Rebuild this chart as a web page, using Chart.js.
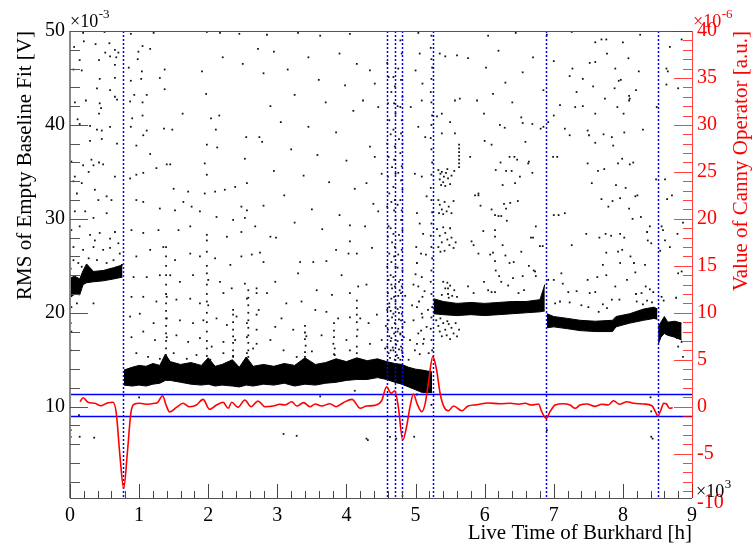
<!DOCTYPE html>
<html lang="en">
  <head>
    <meta charset="UTF-8" />
    <title>RMS of Empty Baseline Fit vs Live Time</title>
    <script src="https://cdn.jsdelivr.net/npm/chart.js"></script>
    <style>
      html, body { margin: 0; padding: 0; background: #fff; }
      #wrap { width: 753px; height: 546px; }
    </style>
  </head>
  <body>
    <div id="wrap"><canvas id="rmsChart" width="753" height="546"></canvas></div>

    <script>
      // x in units of 1e3 s, left axis in 1e-3 V, right axis in 1e-6 a.u.

      // dense baseline band (upper / lower edge), null = jump
      const bandX = [0.0, 0.07, 0.14, 0.19, 0.24, 0.34, 0.48, 0.63, 0.76, null,
        0.78, 0.9, 1.0, 1.1, 1.2, 1.3, 1.38, 1.45, 1.6, 1.75, 1.9, 2.0, 2.1, 2.2, 2.35, 2.45, 2.55, 2.65,
        2.8, 2.95, 3.1, 3.25, 3.4, 3.55, 3.7, 3.85, 4.0, 4.15, 4.3, 4.45, 4.58, 4.7, 4.8, 4.9, 5.0, 5.1, 5.24, null,
        5.26, 5.4, 5.6, 5.8, 6.0, 6.2, 6.4, 6.6, 6.8, 6.87, null,
        6.9, 7.0, 7.2, 7.38, 7.6, 7.85, 7.9, 8.1, 8.3, 8.45, 8.5, null,
        8.51, 8.55, 8.6, 8.65, 8.75, 8.85];
      const bandHi = [23.7, 23.9, 23.6, 24.5, 25.2, 24.4, 24.5, 24.8, 25.1, null,
        13.9, 14.2, 14.4, 14.3, 14.6, 14.4, 15.6, 14.8, 14.5, 14.7, 14.4, 15.2, 14.3, 14.5, 15.0, 14.2, 15.3, 14.3,
        14.5, 14.3, 14.6, 14.4, 15.2, 14.5, 14.7, 15.1, 14.8, 15.2, 14.9, 15.1, 14.8, 14.6, 14.5, 14.2, 14.0, 13.9, 13.7, null,
        21.5, 21.2, 21.0, 21.1, 21.0, 21.1, 21.2, 21.2, 21.4, 23.0, null,
        19.9, 19.6, 19.4, 19.2, 19.1, 19.2, 19.6, 19.9, 20.4, 20.6, 20.4, null,
        18.5, 19.0, 19.6, 19.0, 19.1, 18.9];
      const bandLo = [21.6, 22.0, 21.9, 23.0, 23.2, 23.3, 23.4, 23.6, 23.8, null,
        12.3, 12.2, 12.3, 12.2, 12.4, 12.5, 12.8, 12.8, 12.6, 12.4, 12.3, 12.4, 12.2, 12.3, 12.2, 12.1, 12.3, 12.2,
        12.4, 12.3, 12.5, 12.2, 12.4, 12.3, 12.5, 12.6, 12.8, 12.9, 12.9, 13.1, 12.9, 12.6, 12.4, 12.1, 11.8, 11.5, 11.5, null,
        19.9, 19.8, 19.7, 19.8, 19.7, 19.8, 19.9, 20.0, 20.1, 20.2, null,
        18.4, 18.5, 18.3, 18.1, 18.0, 18.0, 18.5, 18.9, 19.2, 19.4, 19.3, null,
        16.6, 17.4, 17.8, 17.6, 17.4, 17.1];

      // scattered single measurements [time, rms]
      const dotsLeft = [
        [0.19,49.8],[0.5,49.9],[0.88,49.7],[1.21,49.8],[1.98,49.9],[2.17,49.8],[2.45,49.7],[0.06,48.3],[0.2,48.9],[0.37,48.6],
        [0.57,48.7],[0.51,47.7],[0.65,48.0],[0.7,47.7],[0.99,47.8],[1.05,48.4],[1.16,48.1],[2.72,48.1],[0.14,46.9],[0.42,46.9],
        [0.58,47.3],[0.67,47.2],[0.98,47.0],[2.21,47.2],[2.5,46.5],[0.05,45.9],[0.17,45.8],[0.65,46.4],[0.85,46.1],[1.04,45.7],
        [1.37,45.9],[1.91,45.7],[0.43,44.9],[0.65,45.0],[0.88,44.7],[1.03,44.9],[1.3,45.0],[1.37,43.8],[1.97,43.3],[0.39,43.9],
        [0.58,43.7],[0.65,43.0],[0.93,43.2],[1.11,43.2],[0.07,42.4],[0.23,42.6],[0.43,42.3],[0.68,42.7],[0.87,42.5],[1.05,42.4],
        [0.45,41.8],[0.42,41.2],[1.63,41.2],[0.11,40.6],[1.05,41.0],[0.9,40.7],[2.04,40.7],[2.16,41.0],[0.14,40.1],[0.29,39.9],
        [0.39,39.5],[0.46,39.4],[0.58,39.8],[0.88,39.8],[1.11,39.4],[1.36,39.6],[1.48,39.5],[2.11,39.5],[2.55,38.7],[2.74,38.7],
        [0.29,38.3],[0.46,38.5],[0.68,38.0],[0.96,37.8],[1.06,38.9],[1.98,37.9],[2.13,37.6],
        [0.02,36.1],[0.07,34.5],[0.05,34.0],[0.1,32.7],[0.19,35.7],[0.34,35.7],[0.42,36.0],[0.48,35.8],[0.31,36.3],[0.27,35.0],
        [0.17,33.8],[0.36,33.1],[0.41,32.0],[0.53,32.4],[0.65,34.5],[0.6,32.0],[0.07,30.8],[0.22,30.8],[0.34,30.1],[0.53,30.6],
        [0.02,28.8],[0.14,29.2],[0.29,28.3],[0.36,27.7],[0.43,28.5],[0.58,27.9],[0.65,28.6],[0.7,27.4],[0.05,27.0],[0.19,26.7],
        [0.34,27.0],[0.48,26.7],[0.58,26.9],[0.72,26.3],[0.05,25.6],[0.12,25.3],[0.27,25.8],[0.39,25.6],[0.53,25.3],[0.63,25.6],
        [0.75,25.1],[0.01,24.7],[0.17,24.9],[0.02,20.6],[0.1,21.0],[0.34,21.0],[0.01,18.9],[0.02,18.0],[0.01,16.0],
        [1.16,36.9],[1.4,35.8],[1.45,35.8],[1.95,35.9],[1.98,34.7],[1.95,32.7],[2.1,32.9],[2.24,33.1],[2.39,33.4],[2.53,36.4],
        [2.56,33.8],[0.87,34.3],[0.96,34.7],[1.06,34.9],[1.25,35.4],[1.5,33.2],[1.71,32.9],[0.96,32.0],[1.06,31.8],[1.3,31.1],
        [1.52,30.9],[1.64,31.8],[1.76,31.3],[1.88,30.8],[2.12,30.2],[2.48,31.3],[2.56,30.9],[2.36,29.9],[2.53,30.1],[0.89,28.8],
        [1.06,28.5],[1.28,28.8],[1.57,28.8],[1.74,29.2],[1.98,28.3],[1.98,27.7],[2.27,28.1],[2.48,28.6],[2.68,29.2],[0.96,26.0],
        [1.16,26.7],[1.35,27.0],[1.52,25.6],[1.74,26.3],[1.88,26.0],[2.1,25.8],[2.32,25.1],[2.48,26.0],[2.63,26.2],[0.92,23.8],
        [1.11,23.8],[1.3,24.0],[1.45,24.0],[1.59,23.3],[1.78,24.0],[2.0,23.5],[2.17,23.3],[2.34,22.6],[2.53,23.1],[2.7,22.1],
        [0.89,21.7],[1.06,21.7],[1.25,21.2],[1.4,21.7],[1.54,21.4],[1.74,21.5],[1.88,21.0],[2.0,20.8],[2.22,22.1],[2.36,20.3],
        [2.56,21.5],[0.87,19.6],[1.01,19.9],[1.21,18.9],[1.4,19.4],[1.59,19.2],[1.78,18.9],[1.93,19.2],[2.12,19.4],[2.27,18.7],
        [2.41,19.6],[2.56,18.9],[2.7,19.8],[0.89,17.4],[1.06,18.0],[1.23,17.1],[1.4,17.4],[1.54,17.6],[1.71,16.9],[1.88,17.3],
        [2.05,16.4],[2.22,16.9],[2.39,17.1],[2.56,17.4],[2.7,16.7],[0.96,15.7],[1.13,15.3],[1.3,15.1],[1.5,15.7],[1.69,15.1],
        [1.83,15.5],[2.03,15.0],[2.22,15.7],[2.36,15.3],[2.56,15.7],
        [1.39,27.0],[1.39,26.0],[1.39,25.0],[1.39,24.0],[1.39,23.0],[1.39,22.0],[1.39,21.0],[1.39,20.2],[1.39,19.4],[1.39,18.6],
        [1.39,17.8],[1.39,17.0],[1.39,16.2],[1.39,15.5],
        [1.98,26.5],[1.98,25.0],[1.98,24.2],[1.98,23.0],[1.98,22.0],[1.98,21.2],[1.98,20.0],[1.98,19.0],[1.98,18.0],[1.98,17.0],
        [1.98,16.2],[1.98,15.4],
        [2.36,19.8],[2.36,19.0],[2.36,18.2],[2.36,17.5],[2.36,16.8],[2.36,16.0],[2.36,15.4],
        [2.58,22.4],[2.58,21.6],[2.58,20.8],[2.58,20.0],[2.58,19.2],[2.58,18.4],[2.58,17.6],[2.58,16.8],[2.58,16.0],[2.58,15.3]
      ];
      const dotsMid = [
        [2.85,49.6],[3.3,49.8],[3.62,49.5],[4.05,49.7],[2.95,47.8],[3.45,47.2],[3.9,47.6],[4.15,46.5],[2.8,45.5],[3.15,45.9],
        [3.6,44.8],[3.98,44.2],[3.25,43.2],[2.9,42.0],[3.7,42.4],[4.1,41.5],[3.05,40.3],[3.45,39.8],[3.85,39.2],[2.78,38.2],
        [3.2,37.4],[3.58,36.8],[4.0,36.2],[2.95,35.1],[3.38,34.6],[3.75,33.9],[4.12,33.2],[3.1,32.5],[2.8,31.4],[3.5,31.0],
        [3.9,30.4],[3.25,29.6],[4.05,29.3],[3.65,28.9],
        [2.9,28.1],[2.98,28.0],[2.75,26.4],[2.8,25.4],[3.33,25.4],[3.52,25.4],[3.71,25.5],[4.03,26.3],[4.15,26.3],[4.37,26.9],
        [3.85,26.7],[4.05,27.6],[3.93,24.0],[3.3,24.2],[2.97,23.3],[2.7,22.6],[2.85,22.1],[3.57,22.4],[3.79,21.9],[4.05,22.1],
        [4.17,22.8],[4.29,23.0],[3.13,21.0],[3.35,21.2],[2.73,20.3],[3.06,19.4],[3.55,20.3],[3.71,20.1],[3.88,19.4],[4.05,19.5],
        [4.2,19.4],[4.32,18.9],[4.44,19.8],[2.7,18.2],[2.97,18.5],[3.23,18.2],[3.42,17.5],[3.64,17.6],[3.81,16.7],[4.0,17.1],
        [4.15,16.4],[4.34,16.7],[4.51,17.1],[2.9,17.1],[2.65,16.2],[3.09,16.0],[3.28,15.3],[3.5,15.9],[3.83,15.5],[4.05,16.0],
        [3.4,18.6],[3.4,17.9],[3.4,17.2],[3.41,16.5],[3.4,15.8],[3.4,15.3],[3.82,18.9],[3.82,18.1],[3.82,17.4],[3.83,16.2],
        [3.82,15.6],[4.15,21.3],[4.15,20.5],[4.15,19.8],[4.15,19.0],[4.16,18.2],[4.15,17.5],[4.15,15.7]
      ];
      const dotsBurst = [
        [4.34,45.8],[4.41,44.4],[4.24,42.6],[4.46,41.9],[4.34,37.7],[4.41,36.6],[4.51,34.8],[4.29,33.8],[4.39,31.6],[4.46,30.8],[4.27,29.2],
        [4.59,46.6],[4.61,45.1],[4.6,42.3],[4.62,40.5],[4.59,38.0],[4.61,36.6],[4.6,34.5],[4.62,32.7],[4.59,31.3],[4.61,29.2],
        [4.6,28.1],[4.62,26.3],[4.59,24.9],[4.61,23.5],[4.6,22.1],[4.62,21.0],[4.59,20.3],[4.61,19.2],[4.6,18.2],[4.62,17.5],
        [4.59,16.4],[4.61,15.7],[4.6,14.6],
        [4.65,43.5],[4.64,39.0],[4.66,35.5],[4.65,31.8],[4.64,29.0],[4.66,27.5],[4.65,25.4],[4.64,24.0],[4.66,22.6],[4.65,21.5],
        [4.64,20.2],[4.66,18.4],[4.65,17.3],[4.64,16.0],
        [4.68,45.1],[4.7,44.1],[4.69,42.3],[4.71,41.2],[4.68,39.5],[4.7,37.7],[4.69,36.3],[4.71,34.8],[4.68,33.4],[4.7,32.0],
        [4.69,30.9],[4.71,29.9],[4.68,28.4],[4.7,27.0],[4.69,26.0],[4.71,24.9],[4.68,23.8],[4.7,22.8],[4.69,21.7],[4.71,20.6],
        [4.68,19.9],[4.7,18.9],[4.69,17.8],[4.71,17.1],[4.68,16.0],[4.7,15.0],
        [4.75,46.0],[4.74,42.0],[4.76,38.5],[4.75,34.9],[4.74,31.5],[4.76,28.3],[4.75,26.2],[4.74,24.8],[4.76,23.3],[4.75,21.8],
        [4.74,20.4],[4.76,19.3],[4.75,18.3],[4.74,17.0],[4.76,16.1],[4.75,15.2],
        [4.78,49.0],[4.8,47.6],[4.79,44.8],[4.81,43.0],[4.78,41.9],[4.8,40.5],[4.79,39.1],[4.81,38.0],[4.78,37.0],[4.8,35.6],
        [4.79,34.1],[4.81,33.1],[4.78,32.0],[4.8,30.9],[4.79,29.9],[4.81,28.8],[4.78,27.7],[4.8,26.7],[4.79,25.6],[4.81,24.5],
        [4.78,23.5],[4.8,22.8],[4.79,22.1],[4.81,21.4],[4.78,20.6],[4.8,19.9],[4.79,19.2],[4.81,18.5],[4.78,17.8],[4.8,17.1],
        [4.79,16.4],[4.81,15.7],[4.78,15.0],
        [4.56,16.2],[4.64,17.0],[4.66,19.5],[4.72,16.6],[4.74,18.0],[4.76,20.0],[4.83,17.4],[4.84,19.0],[4.57,18.6],[4.63,15.2],
        [4.71,21.2],[4.8,16.0],[4.78,17.7],[4.82,15.3],[4.67,16.3],[4.73,15.5],[4.62,20.6],[4.85,21.8],[4.77,22.4],[4.65,23.0],
        [5.04,49.8],[5.06,47.6],[5.0,45.8],[5.1,44.4],[5.09,42.6],[4.93,41.9],[5.04,39.8],[5.14,38.7],[4.99,34.8],[5.09,34.5],
        [5.16,32.4],[5.02,30.6],[5.06,29.5],[5.11,28.4],[5.01,27.0],[5.08,26.3],[5.02,25.3],[5.09,23.8],[5.04,22.8],[5.1,21.7],
        [5.02,20.6],[5.09,19.9],[4.97,19.2],[5.16,18.5],[5.04,17.8],[4.92,17.1],[5.11,16.7],[4.99,16.0],[5.19,15.7],[4.9,15.0],
        [5.0,24.1],[5.05,21.2],[5.08,18.1],[5.02,16.7],[5.06,15.6],[5.1,19.5],[4.95,20.8],[4.97,23.0],[5.13,22.3],[5.15,26.2],
        [5.18,20.3],[5.12,17.2],
        [5.23,49.5],[5.22,48.2],[5.23,47.0],[5.24,46.1],[5.23,44.9],[5.22,43.5],[5.23,42.4],[5.24,41.0],[5.23,40.0],[5.22,38.6],
        [5.23,37.4],[5.24,36.0],[5.23,34.7],[5.22,33.3],[5.23,32.0],[5.24,30.7],[5.23,29.5],[5.22,28.2],[5.23,27.0],[5.24,25.8],
        [5.23,24.5],[5.22,23.3],[5.23,22.0],[5.24,20.6],[5.23,19.5],[5.22,18.3],[5.23,17.1],[5.24,16.0],
        [5.35,47.6],[5.43,47.3],[5.6,47.4],[5.76,47.1],[5.89,42.6],[5.57,42.6],[5.64,42.8],[5.79,36.6],[5.91,32.7],
        [5.38,41.2],[5.31,40.9],[5.5,40.3],[5.57,39.1],[5.38,39.1],[5.86,32.5],[5.91,32.5],[5.81,27.6],[5.84,27.2],[5.91,26.3],
        [5.76,22.8],[5.84,22.1],
        [5.33,35.2],[5.36,34.8],[5.38,35.0],[5.41,34.5],[5.35,34.2],[5.4,33.9],[5.44,34.9],[5.47,34.3],[5.5,33.7],[5.43,33.5],
        [5.52,34.6],[5.56,35.1],[5.37,33.6],[5.46,35.3],
        [5.63,37.9],[5.63,37.5],[5.63,37.1],[5.63,36.7],[5.63,36.3],[5.63,35.9],[5.63,35.5],
        [5.33,32.0],[5.35,31.5],[5.38,31.0],[5.34,30.6],[5.42,31.8],[5.45,30.8],[5.4,30.5],[5.48,31.3],[5.52,30.6],[5.55,31.9],
        [5.31,28.9],[5.35,28.2],[5.38,27.5],[5.33,27.0],[5.4,29.1],[5.43,28.5],[5.46,27.8],[5.49,27.2],[5.42,26.6],[5.52,28.0],
        [5.55,26.9],[5.58,27.5],[5.36,26.5],[5.5,29.0],
        [5.4,23.3],[5.43,22.6],[5.46,23.2],[5.47,22.0],[5.47,22.6],[5.48,21.6],[5.5,22.9],[5.53,21.8],[5.56,22.4],[5.6,21.7],[5.38,21.9],
        [5.3,19.2],[5.33,18.6],[5.35,18.0],[5.38,17.5],[5.4,18.9],[5.43,18.2],[5.45,17.6],[5.48,18.8],[5.5,17.2],[5.52,18.4],
        [5.55,17.8],[5.58,18.9],[5.6,17.5],[5.63,18.2],[5.36,19.4],[5.46,19.1]
      ];
      const dotsRight = [
        [6.05,49.5],[6.45,49.8],[6.9,49.6],[6.2,47.9],[6.7,47.2],[6.02,46.1],[6.55,45.6],[7.0,46.8],[6.3,44.5],[6.85,43.7],[6.12,43.3],
        [7.26,49.9],[8.25,49.6],[7.6,48.8],[7.69,49.1],[7.76,49.1],[8.0,48.8],[8.85,49.1],[7.77,47.6],[8.08,47.1],[8.68,48.3],
        [7.52,46.6],[7.6,46.7],[7.27,46.0],[7.89,46.0],[8.23,45.7],[8.63,46.0],[8.65,45.7],[7.23,45.2],[7.42,44.9],[7.57,44.1],
        [7.94,44.7],[7.97,44.8],[8.8,43.9],[7.33,43.5],[7.88,43.9],[8.19,43.7],[8.63,44.3],[8.09,43.1],[8.1,42.8],[7.74,42.8],
        [6.4,42.4],[5.99,41.2],[6.53,40.8],[6.55,40.2],[6.22,40.0],[6.29,39.7],[6.69,40.1],[6.85,39.8],[6.81,39.6],[6.0,38.3],
        [6.1,37.9],[6.59,38.2],[6.36,36.6],[6.43,36.6],[6.47,36.3],[6.63,35.9],[6.64,36.1],[6.23,36.0],[6.16,35.2],[6.31,35.1],
        [6.39,35.1],[6.69,34.9],[6.51,34.5],[6.44,33.8],[6.26,33.6],[5.94,31.4],[6.1,31.0],[6.28,31.6],[6.31,31.1],[6.37,31.7],
        [6.48,31.9],[6.15,30.4],[6.2,30.3],[6.24,30.3],[6.32,29.8],[5.98,28.7],[6.15,28.8],[6.74,29.2],[6.15,28.1],[6.7,28.0],
        [6.67,28.0],[6.8,27.1],[6.84,27.1],[6.26,27.2],[6.08,26.2],[6.12,26.4],[6.3,26.1],[6.53,26.5],[6.15,25.5],[6.16,24.5],
        [6.36,25.3],[6.42,25.4],[6.21,23.9],[6.55,23.9],[6.64,25.0],[6.73,24.4],[5.99,23.3],[6.05,22.4],[6.1,22.2],[6.15,22.2],
        [6.24,23.3],[6.34,22.9],[6.41,23.7],[6.49,22.1],[6.57,22.4],[6.71,24.5],[6.74,23.9],
        [7.09,42.1],[7.31,41.9],[7.42,42.0],[7.6,41.2],[7.92,41.9],[8.01,41.2],[8.09,42.6],[7.0,41.0],[6.92,40.3],[7.16,39.6],
        [7.23,38.9],[7.49,39.4],[7.51,38.9],[7.72,39.0],[7.84,38.7],[8.02,39.2],[8.29,39.5],[7.6,38.1],[7.86,37.8],[8.49,41.9],
        [6.99,36.6],[7.05,36.6],[7.49,35.9],[7.93,35.9],[8.1,35.8],[8.15,36.0],[7.64,35.1],[7.73,35.3],[7.99,36.4],[8.48,34.2],
        [8.61,34.2],[7.55,33.8],[7.9,33.6],[8.04,33.3],[8.21,32.5],[8.18,32.4],[7.69,32.1],[7.79,31.3],[7.85,31.9],[7.96,32.2],
        [8.09,31.1],[8.14,30.0],[8.26,30.2],[8.71,32.5],[8.64,32.1],[7.0,30.4],[7.07,30.4],[7.16,30.6],[7.47,28.4],[7.66,28.0],
        [7.75,28.4],[7.83,28.2],[7.96,28.4],[8.02,28.0],[8.39,29.2],[8.35,28.6],[7.26,27.2],[7.76,26.4],[7.93,26.5],[7.99,26.7],
        [8.11,26.0],[7.96,25.3],[8.16,25.3],[8.32,25.1],[8.36,27.7],[8.41,27.4],[7.71,25.1],[8.58,28.8],[8.61,27.7],[8.68,27.0],
        [8.79,28.4],[8.87,29.6],[7.11,24.2],[7.0,23.5],[6.92,23.5],[7.13,23.1],[7.21,22.2],[7.33,22.3],[7.49,23.5],[7.63,23.8],
        [7.76,24.0],[7.89,22.8],[8.06,23.5],[8.18,24.3],[8.19,22.0],[7.52,22.1],[7.6,22.2],[8.27,22.1],[8.33,22.8],[8.39,22.5],
        [8.44,22.2],[8.54,26.6],[8.56,29.2],[8.8,24.2],[8.85,24.4],[8.77,21.6],[8.56,21.7],[8.59,21.3],[7.09,21.2],[7.23,21.1],
        [7.02,21.0],[7.4,20.8],[7.5,20.6],[7.71,20.9],[7.65,20.1],[7.77,20.5],[7.84,21.4],[7.95,21.4],[8.2,21.2],[8.29,20.9],
        [8.35,21.3],[8.42,21.1],
        [8.82,17.8],[8.85,16.9],[8.87,15.3],[8.8,16.4],[8.78,17.3]
      ];
      const dotsLow = [
        [0.01,7.5],[0.13,9.1],[0.14,6.8],[0.35,6.7],[1.0,11.0],[3.09,7.1],[3.28,6.9],[4.29,6.6],[4.31,6.45],[4.63,6.8],
        [4.72,6.6],[4.98,6.8],[3.62,11.1],[4.12,11.7],[5.02,11.3],[5.23,10.2],[0.01,6.8],[6.9,7.5],[8.4,11.0],[8.41,9.5],
        [8.41,6.8],[8.43,6.6]
      ];

      // Canny operator response (right axis)
      const cannyX = [0.145, 0.19, 0.26, 0.357, 0.45, 0.55, 0.62, 0.67, 0.72, 0.777, 0.83, 0.88, 0.926, 1.01, 1.105, 1.225,
        1.27, 1.34, 1.39, 1.44, 1.54, 1.635, 1.73, 1.83, 1.925, 2.02, 2.12, 2.215, 2.29, 2.34, 2.43, 2.53, 2.62, 2.72, 2.82,
        2.94, 3.035, 3.11, 3.21, 3.28, 3.38, 3.47, 3.55, 3.64, 3.76, 3.85, 3.955, 4.08, 4.2, 4.29, 4.41, 4.51, 4.58, 4.645,
        4.70, 4.75, 4.815, 4.87, 4.92, 4.97, 5.02, 5.09, 5.14, 5.185, 5.25, 5.305, 5.355, 5.41, 5.475, 5.55, 5.67, 5.76,
        5.885, 6.05, 6.22, 6.37, 6.49, 6.585, 6.68, 6.78, 6.825, 6.89, 6.945, 7.02, 7.14, 7.235, 7.31, 7.38, 7.48, 7.6,
        7.695, 7.79, 7.865, 7.95, 8.06, 8.155, 8.3, 8.42, 8.47, 8.505, 8.55, 8.59, 8.63, 8.675, 8.72];
      const cannyY = [0.53, 0.96, 0.47, 0.36, 0.1, 0.43, 0.47, -0.7, -5.0, -8.7, -4.9, -0.7, 0.26, 0.36, 0.26, 0.36,
        0.47, 1.17, 0.18, -0.56, -0.07, 0.36, 0.0, 0.18, 0.78, -0.28, 0.18, 0.47, -0.17, 0.47, -0.07, 0.71, 0.0, 0.61, 0.0,
        0.07, 0.26, 0.18, 0.53, 0.07, 0.43, 0.0, 0.29, 0.07, 0.32, 0.0, 0.43, 0.78, -0.17, 0.07, 0.14, 0.64, 2.13, 1.43,
        1.7, 0.0, -3.55, -2.13, 0.0, 1.35, 0.36, -0.53, 0.36, 2.49, 5.33, 3.9, 1.43, 0.0, -0.43, 0.07, -0.43, 0.07,
        0.21, 0.39, 0.32, 0.36, 0.26, 0.36, 0.18, 0.29, -0.53, -1.24, -0.53, 0.18, 0.32, 0.18, -0.17, 0.18, 0.29, 0.04,
        0.26, 0.18, 0.64, 0.26, 0.53, 0.36, 0.29, 0.1, -0.53, -0.96, -0.35, 0.36, 0.29, -0.17, -0.1];

      // detected edges and Canny thresholds
      const edgeTimes = [0.77, 4.58, 4.70, 4.81, 5.25, 6.89, 8.51];
      const thresholds = [1.38, -1.0];

      const leftTicks = [10, 20, 30, 40, 50];
      const rightTicks = [-5, 0, 5, 10, 15, 20, 25, 30, 35, 40];
      const xTicks = [0, 1, 2, 3, 4, 5, 6, 7, 8, 9];

      const SERIF = '"Liberation Serif", "Times New Roman", serif';
      const toPts = (arr) => arr.map((p) => ({ x: p[0], y: p[1] }));

      // split band arrays into continuous pieces
      function bandPieces() {
        const pieces = [];
        let cur = { hi: [], lo: [] };
        bandX.forEach((x, i) => {
          if (x === null) { pieces.push(cur); cur = { hi: [], lo: [] }; return; }
          cur.hi.push({ x: x, y: bandHi[i] });
          cur.lo.push({ x: x, y: bandLo[i] });
        });
        pieces.push(cur);
        return pieces;
      }

      const datasets = [];
      datasets.push({
        type: 'line',
        label: 'Canny',
        data: cannyX.map((x, i) => ({ x: x, y: cannyY[i] })),
        yAxisID: 'y2',
        borderColor: '#ff0000',
        borderWidth: 1.6,
        pointRadius: 0,
        fill: false,
        cubicInterpolationMode: 'monotone',
        order: 0,
      });
      [dotsLeft, dotsMid, dotsBurst, dotsRight, dotsLow].forEach((d) => {
        datasets.push({
          type: 'scatter',
          data: toPts(d),
          yAxisID: 'y',
          pointStyle: 'rect',
          pointRadius: 1.25,
          pointBorderWidth: 0,
          backgroundColor: '#111',
          borderColor: '#111',
          order: 1,
        });
      });
      bandPieces().forEach((p) => {
        datasets.push({
          type: 'line', data: p.hi, yAxisID: 'y', borderColor: '#000', borderWidth: 1,
          backgroundColor: '#000', pointRadius: 0, fill: '+1', tension: 0, order: 2,
        });
        datasets.push({
          type: 'line', data: p.lo, yAxisID: 'y', borderColor: '#000', borderWidth: 1,
          backgroundColor: '#000', pointRadius: 0, fill: false, tension: 0, order: 2,
        });
      });

      // ×10^n label: base text and a raised exponent
      function powerLabel(ctx, x, y, exp, color) {
        ctx.fillStyle = color;
        ctx.textAlign = 'left';
        ctx.font = '18px ' + SERIF;
        ctx.fillText('\u00d710', x, y);
        const w = ctx.measureText('\u00d710').width;
        ctx.font = '13px ' + SERIF;
        ctx.fillText(exp, x + w + 0.5, y - 9);
      }

      // ROOT-like frame, inward ticks, edge markers and extra text
      const rootFrame = {
        id: 'rootFrame',
        beforeDatasetDraw(chart, args) {
          if (args.index !== 0) return;
          const { ctx, chartArea: a, scales } = chart;
          ctx.save();
          ctx.strokeStyle = '#0000ff';
          ctx.lineWidth = 1.5;
          thresholds.forEach((t) => {
            const y = Math.round(scales.y2.getPixelForValue(t)) + 0.5;
            ctx.beginPath(); ctx.moveTo(a.left, y); ctx.lineTo(a.right, y); ctx.stroke();
          });
          ctx.setLineDash([2, 2]);
          edgeTimes.forEach((t) => {
            const x = Math.round(scales.x.getPixelForValue(t)) + 0.5;
            ctx.beginPath(); ctx.moveTo(x, a.top); ctx.lineTo(x, a.bottom); ctx.stroke();
          });
          ctx.restore();
        },
        afterDraw(chart) {
          const { ctx, chartArea: a, scales } = chart;
          const sx = scales.x, sy = scales.y, sr = scales.y2;
          ctx.save();
          ctx.lineWidth = 1;
          // frame
          ctx.strokeStyle = '#555';
          ctx.beginPath();
          ctx.moveTo(a.left, a.top + 0.5); ctx.lineTo(a.right, a.top + 0.5);
          ctx.moveTo(a.left, a.bottom + 0.5); ctx.lineTo(a.right, a.bottom + 0.5);
          ctx.stroke();
          ctx.strokeStyle = '#888';
          ctx.lineWidth = 2;
          ctx.beginPath(); ctx.moveTo(a.left, a.top); ctx.lineTo(a.left, a.bottom); ctx.stroke();
          ctx.lineWidth = 1;
          // x ticks
          ctx.strokeStyle = '#444';
          ctx.beginPath();
          for (let i = 0; i <= 45; i++) {
            const v = i * 0.2;
            const x = Math.round(sx.getPixelForValue(v)) + 0.5;
            const len = i % 5 === 0 ? 14 : 7;
            ctx.moveTo(x, a.bottom); ctx.lineTo(x, a.bottom - len);
          }
          ctx.stroke();
          // left ticks
          ctx.strokeStyle = '#555';
          ctx.beginPath();
          for (let v = 2; v <= 50; v += 2) {
            const y = Math.round(sy.getPixelForValue(v)) + 0.5;
            const len = v % 10 === 0 ? 18 : 10;
            ctx.moveTo(a.left, y); ctx.lineTo(a.left + len, y);
          }
          ctx.stroke();
          // right axis in red
          ctx.strokeStyle = 'rgba(255,0,0,0.75)';
          ctx.beginPath();
          ctx.moveTo(a.right + 0.5, a.top); ctx.lineTo(a.right + 0.5, a.bottom);
          for (let v = -9; v <= 40; v++) {
            const y = Math.round(sr.getPixelForValue(v)) + 0.5;
            const len = v % 5 === 0 ? 18 : 9;
            ctx.moveTo(a.right, y); ctx.lineTo(a.right - len, y);
          }
          ctx.stroke();

          // exponents and titles
          ctx.textBaseline = 'alphabetic';
          powerLabel(ctx, a.left, 27, '-3', '#000');
          ctx.fillStyle = '#ff0000';
          ctx.font = '20px ' + SERIF;
          ctx.textAlign = 'left';
          ctx.fillText('-10', a.right + 5, sr.getPixelForValue(-10) + 7);
          powerLabel(ctx, a.right + 1, 27, '-6', '#ff0000');
          powerLabel(ctx, a.right + 4, a.bottom - 1, '3', '#000');

          ctx.fillStyle = '#000';
          ctx.font = '21px ' + SERIF;
          ctx.textAlign = 'right';
          ctx.fillText('Live Time of Burkhard [h]', a.right, 539);

          ctx.save();
          ctx.translate(31, a.top);
          ctx.rotate(-Math.PI / 2);
          ctx.textAlign = 'right';
          ctx.fillText('RMS of Empty Baseline Fit [V]', 0, 0);
          ctx.restore();

          ctx.save();
          ctx.translate(747, a.top);
          ctx.rotate(-Math.PI / 2);
          ctx.textAlign = 'right';
          ctx.fillStyle = '#ff0000';
          ctx.fillText('Value of Canny Operator [a.u.]', 0, 0);
          ctx.restore();
          ctx.restore();
        },
      };

      new Chart(document.getElementById('rmsChart').getContext('2d'), {
        data: { datasets: datasets },
        options: {
          responsive: false,
          animation: false,
          events: [],
          layout: { padding: { top: 31, left: 0, right: 0, bottom: 0 } },
          plugins: { legend: { display: false }, tooltip: { enabled: false } },
          scales: {
            x: {
              type: 'linear', position: 'bottom', min: 0, max: 9,
              grid: { display: false, drawTicks: false }, border: { display: false },
              afterBuildTicks: (s) => { s.ticks = xTicks.map((v) => ({ value: v })); },
              afterFit: (s) => { s.height = 48; },
              ticks: { padding: 6, color: '#000', maxRotation: 0, font: { family: SERIF, size: 20 } },
            },
            y: {
              type: 'linear', position: 'left', min: 0.28, max: 50,
              grid: { display: false, drawTicks: false }, border: { display: false },
              afterBuildTicks: (s) => { s.ticks = leftTicks.map((v) => ({ value: v })); },
              afterFit: (s) => { s.width = 70; },
              ticks: { padding: 5, color: '#000', font: { family: SERIF, size: 20 } },
            },
            y2: {
              type: 'linear', position: 'right', min: -9.72, max: 40,
              grid: { display: false, drawTicks: false }, border: { display: false },
              afterBuildTicks: (s) => { s.ticks = rightTicks.map((v) => ({ value: v })); },
              afterFit: (s) => { s.width = 61; },
              ticks: { padding: 5, color: '#ff0000', font: { family: SERIF, size: 20 } },
            },
          },
        },
        plugins: [rootFrame],
      });
    </script>
  </body>
</html>
